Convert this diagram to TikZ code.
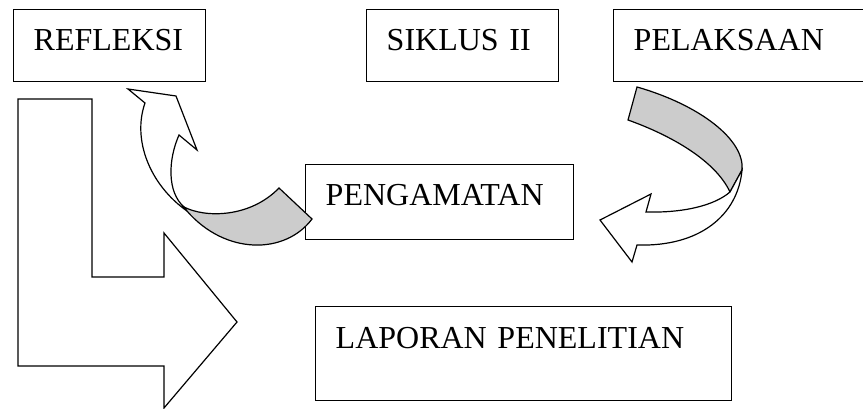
\documentclass[tikz,border=0pt]{standalone}
\usepackage{fontspec}
\setmainfont{Liberation Serif}

\begin{document}
\begin{tikzpicture}[x=0.75pt,y=0.75pt,yscale=-1,xscale=1,
    kotak/.style={draw, line width=1.1pt, anchor=north west, inner xsep=15pt, inner ysep=0pt,
        align=left, font=\fontsize{24}{28}\selectfont, text height=30.75pt},
    panah/.style={draw, line width=0.9pt, line join=miter, fill=white},
    lipat/.style={draw, line width=0.9pt, line join=miter, fill={rgb, 255:red, 204; green, 204; blue, 204 }}]
        \useasboundingbox (0,0) rectangle (863,409);
        \clip (0,0) rectangle (863,409);
        % kotak tahapan
        \node [kotak, text width=114pt, text depth=23.25pt] (refleksi) at (13,9) {REFLEKSI};
        \node [kotak, text width=114pt, text depth=23.25pt] (siklus) at (366,9) {SIKLUS II};
        \node [kotak, text width=162pt, text depth=23.25pt] (pelaksaan) at (613,9) {PELAKSAAN};
        \node [kotak, text width=171pt, text depth=25.5pt] (pengamatan) at (305,164) {PENGAMATAN};
        \node [kotak, text width=282pt, text depth=39pt, text height=31.5pt] (laporan) at (315,306) {LAPORAN PENELITIAN};
        % panah siku ke laporan
        \draw [panah] (18,99) -- (92,99) -- (92,277) -- (164,277) -- (164,233) -- (237,322) -- (164,408) -- (164,366) -- (18,366) -- cycle ;
        % panah lengkung pengamatan -> refleksi
        \draw [panah] (145,103) -- (128,89) -- (176,96) -- (197,150) -- (179,135) .. controls (168,160) and (167,192) .. (184,207) -- (187,211) .. controls (150,185) and (132,140) .. (145,103) -- cycle ;
        \draw [lipat] (184,207) .. controls (205,218) and (250,218) .. (279,188) -- (312,219) .. controls (285,255) and (225,255) .. (187,211) -- cycle ;
        % panah lengkung pelaksaan -> pengamatan
        \draw [lipat] (637,87) .. controls (700,105) and (745,140) .. (742,170) -- (730,192) .. controls (715,160) and (670,135) .. (628,120) -- cycle ;
        \draw [panah] (742,170) .. controls (738,215) and (700,247) .. (637,245) -- (632,262) -- (600,220) -- (651,194) -- (646,212) .. controls (685,213) and (715,205) .. (730,192) -- cycle ;
\end{tikzpicture}
\end{document}
